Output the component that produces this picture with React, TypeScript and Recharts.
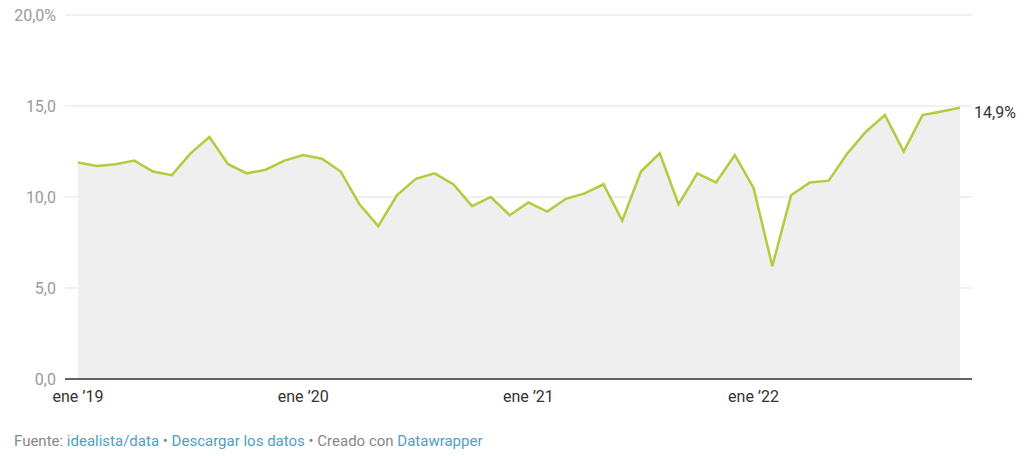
import { ComposedChart, Area, XAxis, YAxis, CartesianGrid, LabelList } from 'recharts';

const monthNames = ['ene', 'feb', 'mar', 'abr', 'may', 'jun', 'jul', 'ago', 'sep', 'oct', 'nov', 'dic'];
const years = [2019, 2020, 2021, 2022];

// tasa mensual (%)
const values2019 = [11.9, 11.7, 11.8, 12.0, 11.4, 11.2, 12.4, 13.3, 11.8, 11.3, 11.5, 12.0];
const values2020 = [12.3, 12.1, 11.4, 9.6, 8.4, 10.1, 11.0, 11.3, 10.7, 9.5, 10.0, 9.0];
const values2021 = [9.7, 9.2, 9.9, 10.2, 10.7, 8.7, 11.4, 12.4, 9.6, 11.3, 10.8, 12.3];
const values2022 = [10.5, 6.2, 10.1, 10.8, 10.9, 12.4, 13.6, 14.5, 12.5, 14.5, 14.7, 14.9];

const xTicks = ['ene 2019', 'ene 2020', 'ene 2021', 'ene 2022'];
const xTickLabels = ['ene \u201919', 'ene \u201920', 'ene \u201921', 'ene \u201922'];
const yTicks = [0, 5, 10, 15, 20];

const seriesByYear = [values2019, values2020, values2021, values2022];
const data = years.flatMap((year, yi) =>
  monthNames.map((m, mi) => ({ month: `${m} ${year}`, value: seriesByYear[yi][mi] }))
);

const fmtY = (v: number) => (v === 20 ? '20,0%' : v.toFixed(1).replace('.', ','));
const fmtX = (v: string) => xTickLabels[xTicks.indexOf(v)] ?? v;

const lastLabel = (props: any) => {
  const { x, y, index, value } = props;
  if (index !== data.length - 1) return null;
  return (
    <text x={x + 14} y={y + 10} fill="#333" fontSize={16} fontFamily="Roboto">
      {String(value).replace('.', ',')}%
    </text>
  );
};

export default function App() {
  return (
    <div
      style={{
        position: 'absolute',
        left: 0,
        top: 0,
        width: 1024,
        height: 456,
        background: '#fff',
        fontFamily: 'Roboto, sans-serif',
      }}
    >
      <ComposedChart width={1024} height={410} data={data} margin={{ top: 15, right: 52, left: 0, bottom: 0 }}>
        <CartesianGrid vertical={false} stroke="#e2e2e2" />
        <XAxis
          dataKey="month"
          ticks={xTicks}
          interval={0}
          tickFormatter={fmtX}
          padding={{ left: 13, right: 12 }}
          height={31}
          tickLine={false}
          tickSize={0}
          tickMargin={12}
          axisLine={{ stroke: '#333', strokeWidth: 1.5 }}
          tick={{ fill: '#333', fontSize: 16, fontFamily: 'Roboto' }}
        />
        <YAxis
          domain={[0, 20]}
          ticks={yTicks}
          tickFormatter={fmtY}
          width={65}
          axisLine={false}
          tickLine={false}
          tickSize={0}
          tickMargin={9}
          tick={{ fill: '#9a9a9a', fontSize: 16, fontFamily: 'Roboto' }}
        />
        <Area
          type="linear"
          dataKey="value"
          stroke="#b2cc3e"
          strokeWidth={2.5}
          fill="#efefef"
          fillOpacity={1}
          dot={false}
          activeDot={false}
          isAnimationActive={false}
        >
          <LabelList dataKey="value" content={lastLabel} />
        </Area>
      </ComposedChart>
      <div style={{ position: 'absolute', left: 14, top: 432, fontSize: 15, color: '#888' }}>
        Fuente: <span style={{ color: '#4d9fc4' }}>idealista/data</span> •{' '}
        <span style={{ color: '#4d9fc4' }}>Descargar los datos</span> • Creado con{' '}
        <span style={{ color: '#4d9fc4' }}>Datawrapper</span>
      </div>
    </div>
  );
}
